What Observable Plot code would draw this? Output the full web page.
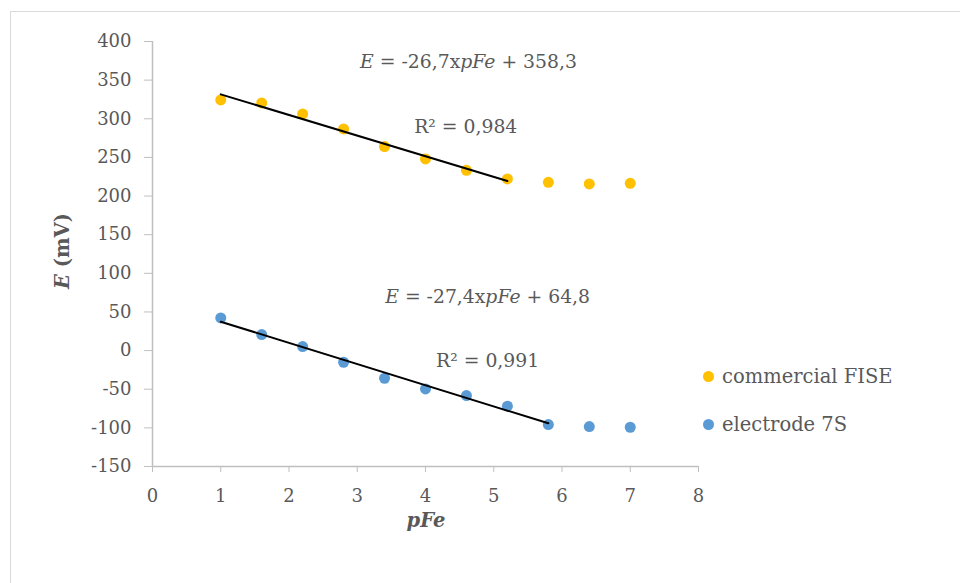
<!DOCTYPE html>
<html>
<head>
<meta charset="utf-8">
<script src="https://cdn.jsdelivr.net/npm/d3@7"></script>
<script src="https://cdn.jsdelivr.net/npm/@observablehq/plot@0.6"></script>
<style>
  body { margin: 0; background: #fff; }
  #wrap { position: relative; width: 960px; height: 583px; overflow: hidden; font-family: "DejaVu Serif", serif; }
  #frame { position: absolute; left: 10px; top: 11px; right: -5px; bottom: -5px; border-left: 1px solid #d9d9d9; border-top: 1px solid #d9d9d9; }
  #chart { position: absolute; left: 0; top: 0; }
  .legend { position: absolute; left: 703px; color: #595959; font-size: 19.5px; display: flex; align-items: center; }
  .legend span.dot { display: inline-block; width: 11px; height: 11px; border-radius: 50%; margin-right: 8px; }
</style>
</head>
<body>
<div id="wrap">
  <div id="frame"></div>
  <div id="chart"></div>
</div>
<script>
// ---- data ----
const pFe = [1, 1.6, 2.2, 2.8, 3.4, 4.0, 4.6, 5.2, 5.8, 6.4, 7.0];
const fiseE = [324.4, 320.5, 306.3, 286.9, 264.0, 248.0, 233.3, 222.2, 217.8, 215.7, 216.5];
const s7E = [42.3, 20.7, 5.2, -15.1, -35.8, -49.6, -58.2, -72.0, -95.8, -98.3, -99.2];
const seriesNames = ["commercial FISE", "electrode 7S"];
const seriesColors = ["#FFC000", "#5B9BD5"];
// linear fits (slope, intercept) and fit range
const fitSlope = [-26.7, -27.4];
const fitIntercept = [358.3, 64.8];
const fitRange = [[1, 5.2], [1, 5.8]];
const eqLabels = ["E = -26,7xpFe + 358,3", "E = -27,4xpFe + 64,8"];
const r2Labels = ["R² = 0,984", "R² = 0,991"];
const xTicks = [0, 1, 2, 3, 4, 5, 6, 7, 8];
const yTicks = [-150, -100, -50, 0, 50, 100, 150, 200, 250, 300, 350, 400];

// ---- build tables ----
const points = [];
seriesNames.forEach((s, i) => {
  const ys = i === 0 ? fiseE : s7E;
  pFe.forEach((x, j) => points.push({series: s, x, y: ys[j]}));
});
const fits = [];
seriesNames.forEach((s, i) => {
  fitRange[i].forEach(x => fits.push({series: s, x, y: fitSlope[i] * x + fitIntercept[i]}));
});
// annotation anchors (data coordinates)
const annots = [
  {x: 4.63, y: 373, t: eqLabels[0], kind: "eq"},
  {x: 4.59, y: 289, t: r2Labels[0], kind: "r2"},
  {x: 4.91, y: 70, t: eqLabels[1], kind: "eq"},
  {x: 4.91, y: -13, t: r2Labels[1], kind: "r2"}
];

const gray = "#595959";
const axisGray = "#bfbfbf";

const plot = Plot.plot({
  width: 960,
  height: 583,
  marginLeft: 152,
  marginRight: 262,
  marginTop: 41,
  marginBottom: 117,
  style: {fontFamily: "DejaVu Serif, serif", fontSize: "18px", color: gray, background: "transparent"},
  x: {domain: [0, 8]},
  y: {domain: [-150, 400]},
  color: {domain: seriesNames, range: seriesColors},
  marks: [
    Plot.ruleY([-150], {stroke: axisGray, strokeWidth: 1.5}),
    Plot.ruleX([0], {stroke: axisGray, strokeWidth: 1.5}),
    Plot.axisY({ticks: yTicks, tickSize: 8, tickPadding: 13, stroke: axisGray, fill: gray, label: null, fontSize: 18, tickFormat: d => String(d)}),
    Plot.axisX({ticks: xTicks, tickSize: 6, tickPadding: 17, stroke: axisGray, fill: gray, label: null, fontSize: 18}),
    Plot.dot(points, {x: "x", y: "y", fill: "series", r: 5.5}),
    Plot.line(fits, {x: "x", y: "y", z: "series", stroke: "black", strokeWidth: 2}),
    Plot.text(annots, {x: "x", y: "y", text: "t", fill: gray, fontSize: 18.8, className: "annot"})
  ]
});
document.getElementById("chart").appendChild(plot);

// italicize variables in the equations
d3.select(plot).selectAll("g.annot text").each(function() {
  const t = this.textContent;
  if (t.startsWith("E =")) {
    const m = t.match(/^E = (.*?x)pFe(.*)$/);
    const sel = d3.select(this);
    sel.text("");
    sel.append("tspan").attr("font-style", "italic").text("E");
    sel.append("tspan").text(" = " + m[1]);
    sel.append("tspan").attr("font-style", "italic").text("pFe");
    sel.append("tspan").text(m[2]);
  }
});

// axis titles
const svg = d3.select(plot);
const yl = svg.append("text")
  .attr("transform", "translate(69,251) rotate(-90)")
  .attr("text-anchor", "middle")
  .attr("fill", gray)
  .attr("font-weight", "bold")
  .attr("font-size", 19.5);
yl.append("tspan").attr("font-style", "italic").text("E");
yl.append("tspan").text(" (mV)");
svg.append("text")
  .attr("x", 426).attr("y", 527)
  .attr("text-anchor", "middle")
  .attr("fill", gray)
  .attr("font-weight", "bold")
  .attr("font-style", "italic")
  .attr("font-size", 19.5)
  .text("pFe");

// legend
const wrap = document.getElementById("wrap");
const legendTops = [365, 413];
seriesNames.forEach((s, i) => {
  const div = document.createElement("div");
  div.className = "legend";
  div.style.top = legendTops[i] + "px";
  div.innerHTML = `<span class="dot" style="background:${seriesColors[i]}"></span>${s}`;
  wrap.appendChild(div);
});
</script>
</body>
</html>
